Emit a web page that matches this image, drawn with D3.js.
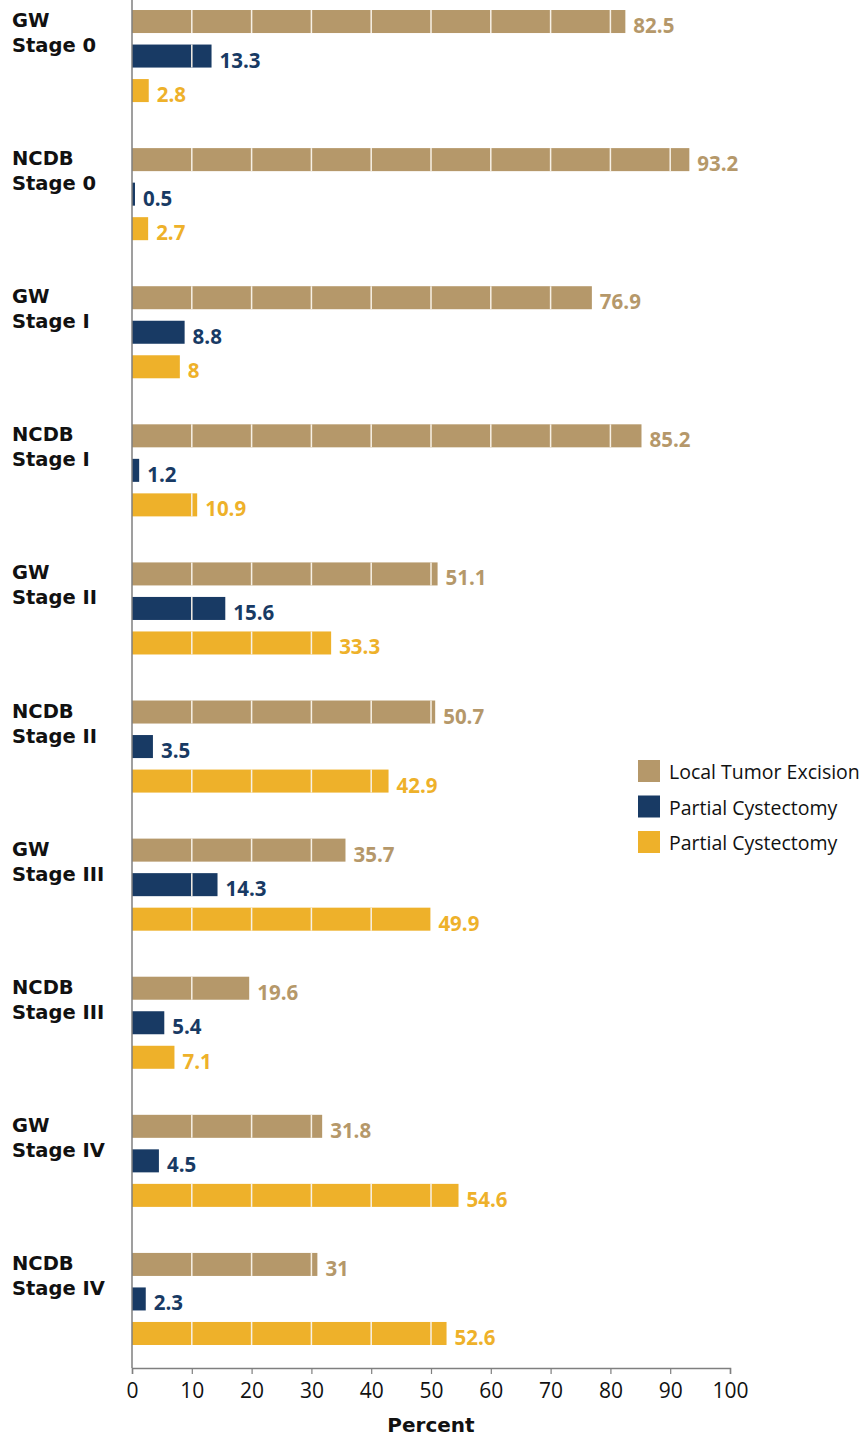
<!DOCTYPE html>
<html>
<head>
<meta charset="utf-8">
<script src="https://cdn.jsdelivr.net/npm/d3@7"></script>
<style>
  html, body { margin: 0; padding: 0; background: #fff; }
  svg { display: block; }
</style>
</head>
<body>
<svg id="chart" width="863" height="1437"></svg>
<script>
// Treatment type by stage, GW vs NCDB cohorts (percent of patients)
const categories = [
  ["GW", "Stage 0"], ["NCDB", "Stage 0"],
  ["GW", "Stage I"], ["NCDB", "Stage I"],
  ["GW", "Stage II"], ["NCDB", "Stage II"],
  ["GW", "Stage III"], ["NCDB", "Stage III"],
  ["GW", "Stage IV"], ["NCDB", "Stage IV"]
];
const seriesNames = ["Local Tumor Excision", "Partial Cystectomy", "Partial Cystectomy"];
const localExcision = [82.5, 93.2, 76.9, 85.2, 51.1, 50.7, 35.7, 19.6, 31.8, 31];
const partialA      = [13.3, 0.5, 8.8, 1.2, 15.6, 3.5, 14.3, 5.4, 4.5, 2.3];
const partialB      = [2.8, 2.7, 8, 10.9, 33.3, 42.9, 49.9, 7.1, 54.6, 52.6];
const xTicks = [0, 10, 20, 30, 40, 50, 60, 70, 80, 90, 100];
const colors = ["#b5986a", "#183a64", "#eeb12a"];

const seriesValues = [localExcision, partialA, partialB];

const svg = d3.select("#chart");
const left = 132, right = 730, bottom = 1368;

const x = d3.scaleLinear().domain([0, 100]).range([left, right]);
const y = d3.scaleBand().domain(d3.range(categories.length)).range([-13, bottom]).padding(0);
const yInner = d3.scaleBand().domain([0, 1, 2]).range([0, y.bandwidth()])
  .paddingInner(1 / 3).paddingOuter(2 / 3);

// Flatten into one record per bar
const bars = [];
categories.forEach((c, i) => {
  seriesValues.forEach((vals, s) => bars.push({ cat: i, s, v: vals[i] }));
});

// Bars
svg.append("g").selectAll("rect").data(bars).join("rect")
  .attr("x", x(0))
  .attr("y", d => y(d.cat) + yInner(d.s))
  .attr("width", d => x(d.v) - x(0))
  .attr("height", yInner.bandwidth())
  .attr("fill", d => colors[d.s]);

// Light vertical gridlines running across the bars
const grid = svg.append("g");
bars.forEach(d => {
  xTicks.filter(t => t > 0 && t < d.v).forEach(t => {
    grid.append("line")
      .attr("x1", x(t)).attr("x2", x(t))
      .attr("y1", y(d.cat) + yInner(d.s))
      .attr("y2", y(d.cat) + yInner(d.s) + yInner.bandwidth())
      .attr("stroke", "#f7f1e6").attr("stroke-width", 1.5);
  });
});

// Value labels
svg.append("g").selectAll("text").data(bars).join("text")
  .attr("x", d => x(d.v) + 8)
  .attr("y", d => y(d.cat) + yInner(d.s) + yInner.bandwidth())
  .attr("fill", d => colors[d.s])
  .attr("font-family", "'Open Sans', sans-serif")
  .attr("font-weight", 700)
  .attr("font-size", 20.5)
  .text(d => String(d.v));

// Category labels (two lines each)
const catG = svg.append("g");
categories.forEach((lines, i) => {
  const t = catG.append("text")
    .attr("font-family", "'DejaVu Sans', sans-serif")
    .attr("font-weight", 700)
    .attr("font-size", 19.5)
    .attr("fill", "#111");
  lines.forEach((ln, k) => {
    t.append("tspan")
      .attr("x", 12)
      .attr("y", y(i) + yInner(0) + 17 + k * 25)
      .text(ln);
  });
});

// Left axis line
svg.append("line")
  .attr("x1", left).attr("x2", left)
  .attr("y1", 0).attr("y2", bottom)
  .attr("stroke", "#7f7f7f").attr("stroke-width", 1.5);

// Bottom axis
const xAxis = d3.axisBottom(x).tickValues(xTicks).tickSize(6).tickPadding(9).tickFormat(d3.format("d"));
const axG = svg.append("g").attr("transform", `translate(0,${bottom})`).call(xAxis);
axG.select(".domain").attr("stroke", "#7f7f7f").attr("stroke-width", 1.5);
axG.selectAll(".tick line").attr("stroke", "#7f7f7f").attr("stroke-width", 1.2);
axG.selectAll(".tick text")
  .attr("font-family", "'Open Sans', sans-serif")
  .attr("font-size", 21)
  .attr("fill", "#111");

// Axis title
svg.append("text")
  .attr("x", (left + right) / 2)
  .attr("y", 1432)
  .attr("text-anchor", "middle")
  .attr("font-family", "'DejaVu Sans', sans-serif")
  .attr("font-weight", 700)
  .attr("font-size", 20)
  .attr("fill", "#111")
  .text("Percent");

// Legend
const legend = svg.append("g").attr("transform", "translate(638,760)");
seriesNames.forEach((name, i) => {
  const row = legend.append("g").attr("transform", `translate(0,${i * 35.5})`);
  row.append("rect").attr("width", 22).attr("height", 22).attr("fill", colors[i]);
  row.append("text")
    .attr("x", 31).attr("y", 19)
    .attr("font-family", "'Open Sans', sans-serif")
    .attr("font-size", 19.5)
    .attr("fill", "#111")
    .text(name);
});
</script>
</body>
</html>
